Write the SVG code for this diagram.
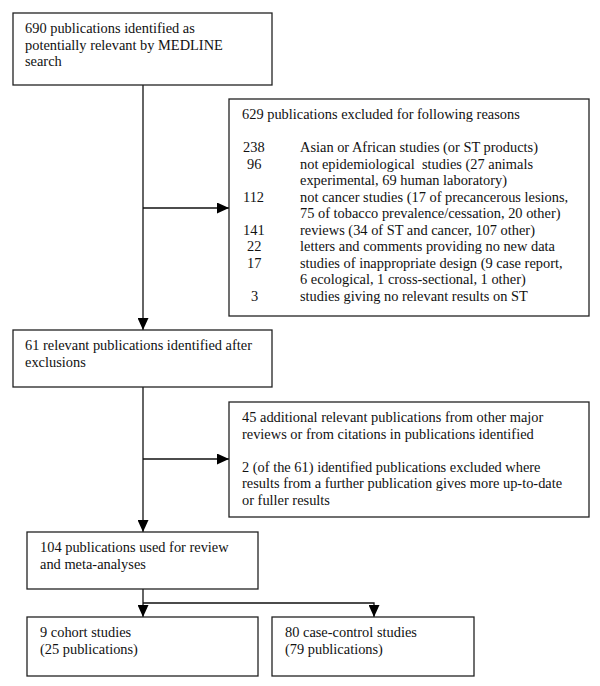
<svg xmlns="http://www.w3.org/2000/svg" width="600" height="686" viewBox="0 0 600 686">
<style>
.box{fill:#fff;stroke:#222;stroke-width:1.3}
text{font-family:"Liberation Serif","Times New Roman",serif;font-size:14.4px;fill:#111;white-space:pre}
.ln{fill:none;stroke:#111;stroke-width:1.3}
</style>
<defs>
<marker id="ah" viewBox="0 0 12 11" refX="12" refY="5.5" markerWidth="12" markerHeight="11" markerUnits="userSpaceOnUse" orient="auto">
<path d="M0,0 L12,5.5 L0,11 Z" fill="#000"/>
</marker>
</defs>
<rect width="600" height="686" fill="#fff"/>
<g id="connectors">
<path class="ln" d="M143,85 V330" marker-end="url(#ah)"/>
<path class="ln" d="M143,208 H229" marker-end="url(#ah)"/>
<path class="ln" d="M143,387 V532" marker-end="url(#ah)"/>
<path class="ln" d="M143,459 H229" marker-end="url(#ah)"/>
<path class="ln" d="M143,589 V617" marker-end="url(#ah)"/>
<path class="ln" d="M143,603 H374 V617" marker-end="url(#ah)"/>
</g>
<g id="n1">
<rect class="box" x="13" y="13" width="259" height="72"/>
<text x="25" y="33">690 publications identified as</text>
<text x="25" y="49.5">potentially relevant by MEDLINE</text>
<text x="25" y="66">search</text>
</g>
<g id="n2">
<rect class="box" x="229" y="99" width="360" height="217"/>
<text x="242" y="119">629 publications excluded for following reasons</text>
<text x="243" y="152">238</text><text x="300" y="152">Asian or African studies (or ST products)</text>
<text x="247" y="168.5">96</text><text x="300" y="168.5">not epidemiological  studies (27 animals</text>
<text x="300" y="185">experimental, 69 human laboratory)</text>
<text x="243" y="201.5">112</text><text x="300" y="201.5">not cancer studies (17 of precancerous lesions,</text>
<text x="300" y="218">75 of tobacco prevalence/cessation, 20 other)</text>
<text x="243" y="234.5">141</text><text x="300" y="234.5">reviews (34 of ST and cancer, 107 other)</text>
<text x="247" y="251">22</text><text x="300" y="251">letters and comments providing no new data</text>
<text x="247" y="267.5">17</text><text x="300" y="267.5">studies of inappropriate design (9 case report,</text>
<text x="300" y="284">6 ecological, 1 cross-sectional, 1 other)</text>
<text x="251" y="300.5">3</text><text x="300" y="300.5">studies giving no relevant results on ST</text>
</g>
<g id="n3">
<rect class="box" x="13" y="330" width="259" height="57"/>
<text x="25" y="350">61 relevant publications identified after</text>
<text x="25" y="366.5">exclusions</text>
</g>
<g id="n4">
<rect class="box" x="229" y="402" width="360" height="115"/>
<text x="242" y="422">45 additional relevant publications from other major</text>
<text x="242" y="438.5">reviews or from citations in publications identified</text>
<text x="242" y="471.5">2 (of the 61) identified publications excluded where</text>
<text x="242" y="488">results from a further publication gives more up-to-date</text>
<text x="242" y="504.5">or fuller results</text>
</g>
<g id="n5">
<rect class="box" x="27" y="532" width="231" height="57"/>
<text x="40" y="552">104 publications used for review</text>
<text x="40" y="568.5">and meta-analyses</text>
</g>
<g id="n6">
<rect class="box" x="27" y="617" width="231" height="59"/>
<text x="40" y="637">9 cohort studies</text>
<text x="40" y="653.5">(25 publications)</text>
</g>
<g id="n7">
<rect class="box" x="272" y="617" width="202" height="59"/>
<text x="285" y="637">80 case-control studies</text>
<text x="285" y="653.5">(79 publications)</text>
</g>
</svg>
